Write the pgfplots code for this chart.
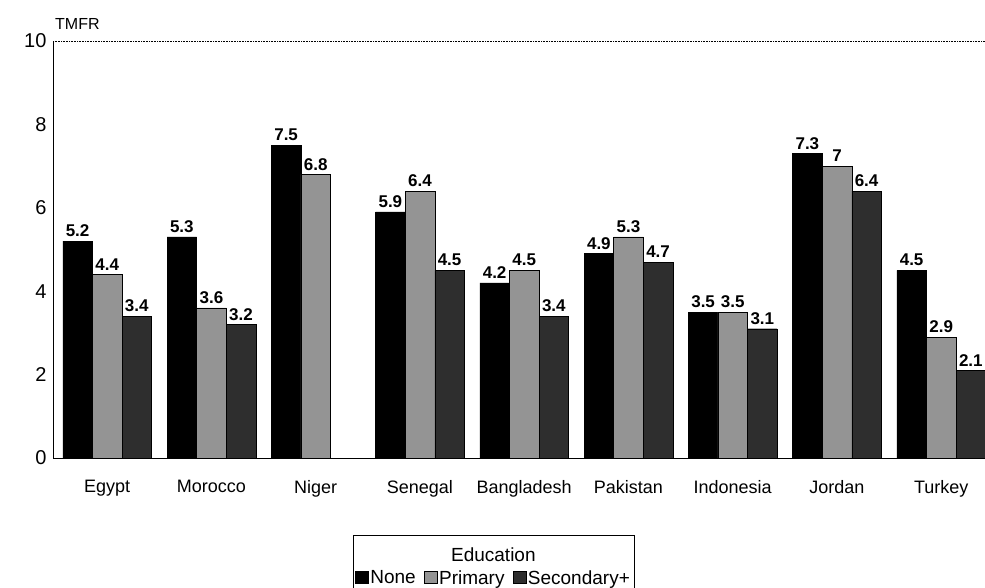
\documentclass[border=0pt]{standalone}
\usepackage{pgfplots}
\pgfplotsset{compat=1.18}
\usepackage{fontspec}
\setmainfont{Liberation Sans}
\begin{document}
\begin{tikzpicture}
\begin{axis}[
    scale only axis,
    clip=false,
    width=932pt, height=417pt,
    ybar=0pt, bar width=29.6pt,
    xmin=-0.52, xmax=8.42,
    ymin=0, ymax=10,
    ytick={0,2,...,10},
    xtick={0,...,8},
    xticklabels={Egypt,Morocco,Niger,Senegal,Bangladesh,Pakistan,Indonesia,Jordan,Turkey},
    major tick length=0pt,
    axis lines*=left,
    axis line style={-, line width=0.8pt},
    /pgf/number format/assume math mode=true,
    xticklabel style={font=\fontsize{18}{21}\selectfont, yshift=-19pt},
    yticklabel style={font=\fontsize{20}{23}\selectfont, xshift=-3pt},
    nodes near coords,
    every node near coord/.append style={font=\fontsize{17}{20}\selectfont\bfseries, inner sep=4pt},
    legend columns=3,
    legend style={at={(rel axis cs:0.4725,-0.1847)}, anchor=north, draw=black, line width=0.5pt,
        inner ysep=33pt, inner xsep=2pt, font=\fontsize{19}{22}\selectfont,
        /tikz/every even column/.append style={column sep=6pt},
        label={[anchor=north, yshift=-9pt, font=\fontsize{19}{22}\selectfont]north:Education}},
    legend image code/.code={\draw[#1, line width=0.4pt] (0pt,-5pt) rectangle (13pt,7pt);},
]
\addplot[fill=black, draw=black] coordinates {
    (0,5.2) (1,5.3) (2,7.5) (3,5.9) (4,4.2) (5,4.9) (6,3.5) (7,7.3) (8,4.5)
};
\addplot[fill=black!42, draw=black] coordinates {
    (0,4.4) (1,3.6) (2,6.8) (3,6.4) (4,4.5) (5,5.3) (6,3.5) (7,7) (8,2.9)
};
\addplot[fill=black!82, draw=black] coordinates {
    (0,3.4) (1,3.2) (3,4.5) (4,3.4) (5,4.7) (6,3.1) (7,6.4) (8,2.1)
};
\legend{None,Primary,Secondary+}
\draw[densely dotted, line width=0.6pt] (rel axis cs:0,1) -- (rel axis cs:1,1);
\node[anchor=south west, inner sep=0pt, font=\fontsize{16}{19}\selectfont] at ([xshift=2pt, yshift=11pt]rel axis cs:0,1) {TMFR};
\coordinate (bl) at ([xshift=-53pt, yshift=-130pt]rel axis cs:0,0);
\coordinate (tr) at ([yshift=41pt]rel axis cs:1,1);
\end{axis}
\pgfresetboundingbox
\path (bl) rectangle (tr);
\end{tikzpicture}
\end{document}
